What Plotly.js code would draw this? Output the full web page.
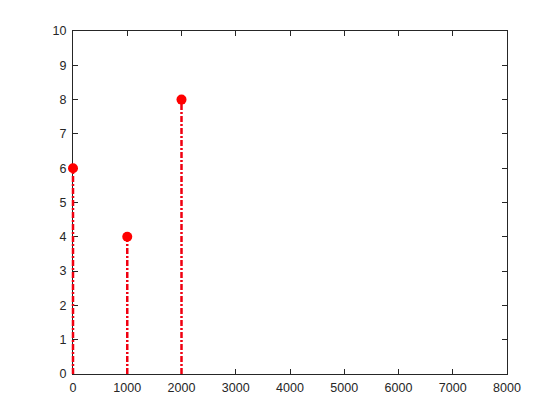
<!DOCTYPE html>
<html>
<head>
<meta charset="utf-8">
<script src="https://cdn.plot.ly/plotly-3.0.1.min.js"></script>
<style>html,body{margin:0;padding:0;background:#fff;}#chart{width:560px;height:420px;}</style>
</head>
<body>
<div id="chart"></div>
<script>
var xValues = [0, 1000, 2000];
var yValues = [6, 4, 8];
var xTickVals = [0, 1000, 2000, 3000, 4000, 5000, 6000, 7000, 8000];
var yTickVals = [0, 1, 2, 3, 4, 5, 6, 7, 8, 9, 10];

var stemX = [], stemY = [];
for (var i = 0; i < xValues.length; i++) {
  stemX.push(xValues[i], xValues[i], null);
  stemY.push(0, yValues[i], null);
}

// layout geometry: a hidden second x axis that extends a few pixels left of the
// main axis (same scale), so the stem at x=0 is not clipped by the plot area
var W = 560, H = 420, ML = 69, MR = 53, extraPx = 4;
var plotW = W - ML - MR;
var dom0 = extraPx / plotW;
var xMin = 0, xMax = 8000;
var unitsPerPx = (xMax - xMin) / (plotW - extraPx);

var traces = [
  {x: xValues, y: yValues, xaxis: 'x', yaxis: 'y', mode: 'markers', type: 'scatter',
   marker: {color: 'rgba(0,0,0,0)', size: 1}, showlegend: false, hoverinfo: 'skip'},
  {x: stemX, y: stemY, xaxis: 'x2', yaxis: 'y', mode: 'lines', type: 'scatter', hoverinfo: 'skip',
   line: {color: '#f00010', width: 2.5, dash: '6px,2px,2px,2px'}, showlegend: false},
  {x: xValues, y: yValues, xaxis: 'x2', yaxis: 'y', mode: 'markers', type: 'scatter',
   marker: {color: '#ff0000', size: 10, line: {width: 0}}, showlegend: false, cliponaxis: false}
];

var axisCommon = {
  showgrid: false, zeroline: false, showline: true, mirror: 'ticks', layer: 'below traces',
  linecolor: '#262626', linewidth: 1, ticks: 'inside', ticklen: 5, tickcolor: '#262626',
  tickfont: {family: 'Liberation Sans, Arial, sans-serif', size: 12.5, color: '#262626'}
};

var layout = {
  width: W, height: H,
  margin: {l: ML, r: MR, t: 31, b: 46},
  paper_bgcolor: '#ffffff', plot_bgcolor: 'rgba(0,0,0,0)',
  xaxis: Object.assign({}, axisCommon, {domain: [dom0, 1], range: [xMin, xMax], anchor: 'y', tickvals: xTickVals,
    ticktext: xTickVals.map(String), ticklabelstandoff: 2}),
  xaxis2: {domain: [0, 1], range: [xMin - extraPx * unitsPerPx, xMax], anchor: 'y',
    visible: false, showgrid: false, zeroline: false, showline: false, ticks: ''},
  yaxis: Object.assign({}, axisCommon, {anchor: 'x', range: [0, 10], tickvals: yTickVals,
    ticktext: yTickVals.map(String), ticklabelstandoff: 3})
};

Plotly.newPlot('chart', traces, layout, {staticPlot: true, displayModeBar: false});
</script>
</body>
</html>
